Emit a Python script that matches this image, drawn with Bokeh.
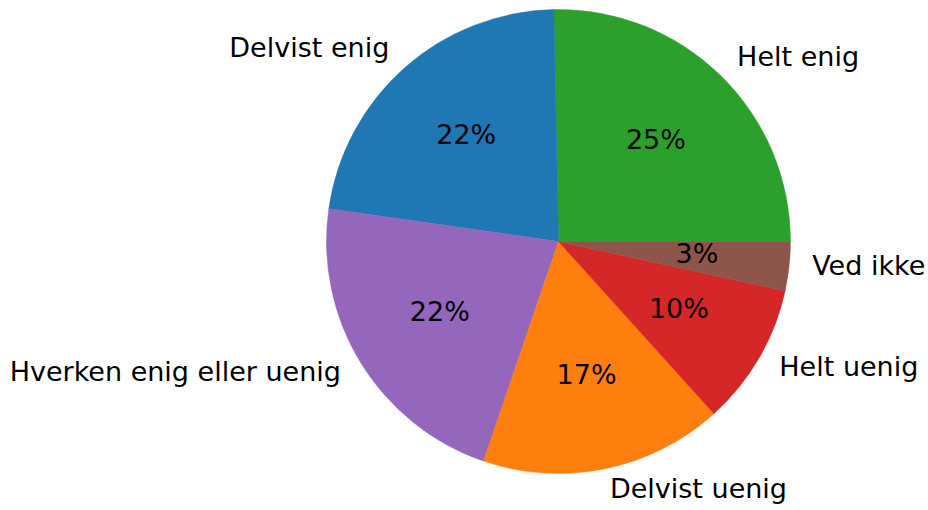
import math
from bokeh.plotting import figure
from bokeh.models import ColumnDataSource, Range1d
from bokeh.core.properties import value
from bokeh.embed import file_html
from bokeh.resources import INLINE

labels = ["Helt enig", "Delvist enig", "Hverken enig eller uenig", "Delvist uenig", "Helt uenig", "Ved ikke"]
values = [25.3, 22.4, 22.0, 16.9, 9.9, 3.4]
colors = ["#2ca02c", "#1f77b4", "#9467bd", "#ff7f0e", "#d62728", "#8c564b"]

W, H = 928, 510
R_PX = 232.0
CX, CY = 558.0, 241.0  # pie centre in canvas pixels

total = sum(values)
starts, ends, mids = [], [], []
a = 0.0
for v in values:
    span = 2 * math.pi * v / total
    starts.append(a)
    ends.append(a + span)
    mids.append(a + span / 2)
    a += span

pcts = ["%d%%" % round(100 * v / total) for v in values]

p = figure(width=W, height=H, output_backend="svg", toolbar_location=None,
           x_range=Range1d(-CX / R_PX, (W - CX) / R_PX),
           y_range=Range1d(-(H - CY) / R_PX, CY / R_PX),
           min_border=0, min_border_left=0, min_border_right=0,
           min_border_top=0, min_border_bottom=0)
p.axis.visible = False
p.grid.visible = False
p.outline_line_color = None
p.background_fill_color = "white"
p.border_fill_color = "white"

src = ColumnDataSource(dict(start=starts, end=ends, color=colors))
p.wedge(x=0, y=0, radius=1, start_angle="start", end_angle="end",
        fill_color="color", line_color="color", line_width=0.5, source=src)

lx = [1.1 * math.cos(m) for m in mids]
ly = [1.1 * math.sin(m) for m in mids]
la = ["left" if x > 0 else "right" for x in lx]
lsrc = ColumnDataSource(dict(x=lx, y=ly, t=labels, align=la))
p.text(x="x", y="y", text="t", text_align="align", text_baseline="middle",
       y_offset=-3,
       text_font=value("DejaVu Sans"), text_font_size="27px", text_color="black",
       source=lsrc)

px = [0.6 * math.cos(m) for m in mids]
py = [0.6 * math.sin(m) for m in mids]
psrc = ColumnDataSource(dict(x=px, y=py, t=pcts))
p.text(x="x", y="y", text="t", text_align="center", text_baseline="middle",
       y_offset=-3,
       text_font=value("DejaVu Sans"), text_font_size="27px", text_color="black",
       source=psrc)

open("out.html", "w").write(file_html(p, INLINE))
